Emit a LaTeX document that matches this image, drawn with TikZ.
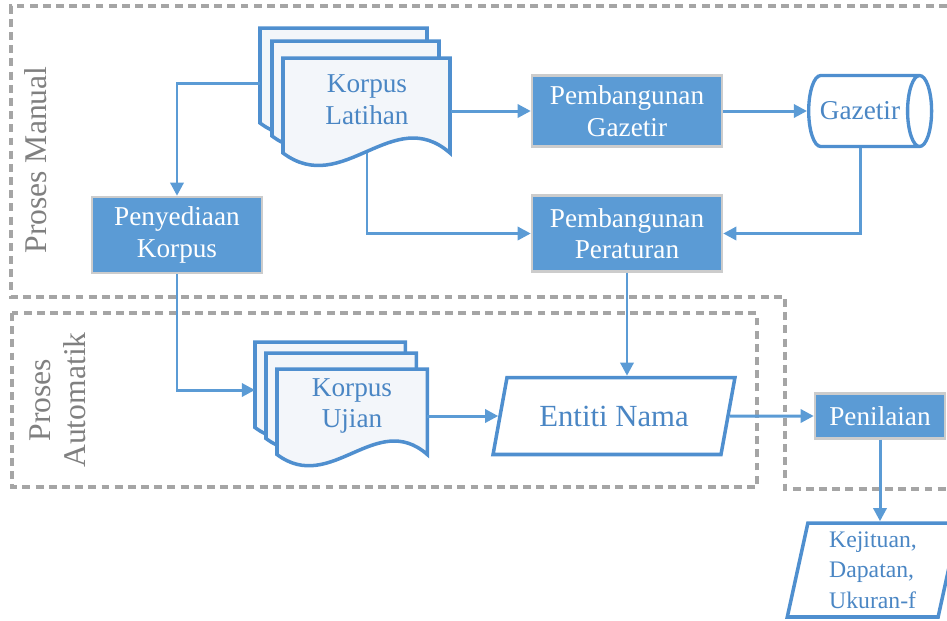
\documentclass[tikz,border=0pt]{standalone}
\usepackage{fontspec}
\setmainfont{Liberation Serif}
\usetikzlibrary{shapes.geometric,arrows.meta}

\definecolor{procfill}{HTML}{5B9BD5}
\definecolor{flowline}{HTML}{5B9BD5}
\definecolor{docline}{HTML}{4F8FCF}
\definecolor{doctext}{HTML}{4A86C4}
\definecolor{docfill}{HTML}{F3F6FA}
\definecolor{framegray}{HTML}{A5A5A5}
\definecolor{labelgray}{HTML}{808080}

\tikzset{
  procbox/.style={rectangle, fill=procfill, draw=black!20, line width=1.4pt, text=white, align=center, font=\fontsize{15.5}{18}\selectfont},
  datashape/.style={trapezium, trapezium stretches=true, draw=docline, line width=2pt, fill=white, text=doctext},
  doclabel/.style={align=center, text=doctext, font=\fontsize{15.5}{18}\selectfont},
  laneframe/.style={draw=framegray, line width=1.9pt, dash pattern=on 4.5pt off 3pt},
  lanelabel/.style={rotate=90, text=labelgray, align=center, font=\fontsize{18}{20}\selectfont},
  flow/.style={draw=flowline, line width=1.7pt, -{Triangle[length=7.5pt,width=7.5pt]}},
  docsheet/.pic={\draw[draw=docline, line width=2pt, fill=docfill] (0,0) -- (167,0) -- (167,95) .. controls (110,45) and (60,140) .. (0,95) -- cycle;}
}

\begin{document}
\begin{tikzpicture}[x=0.02cm, y=-0.02cm]
  \useasboundingbox (0,0) rectangle (947,620);
  \clip (0,0) rectangle (947,620);

  % Lane frames
  \draw[laneframe] (960,6) -- (11,6) -- (11,297) -- (785,297) -- (785,489) -- (960,489);
  \draw[laneframe] (12,313) rectangle (757,487);
  \node[lanelabel] (manual) at (36,160) {Proses Manual};
  \node[lanelabel] (automatik) at (58,400) {Proses\\Automatik};

  % Document stacks
  \pic at (260,28) {docsheet};
  \pic at (272,41) {docsheet};
  \pic at (283,58) {docsheet};
  \node[doclabel, minimum width=3.36cm, minimum height=2.12cm] (latihan) at (367,100) {Korpus\\Latihan};

  \pic[scale=0.9] at (255,342) {docsheet};
  \pic[scale=0.9] at (266,353) {docsheet};
  \pic[scale=0.9] at (277,369) {docsheet};
  \node[doclabel, minimum width=3.0cm, minimum height=1.7cm] (ujian) at (352,406) {Korpus\\Ujian};

  % Process boxes
  \node[procbox, minimum width=3.4cm, minimum height=1.52cm] (penyediaan) at (177,235) {Penyediaan\\Korpus};
  \node[procbox, minimum width=3.8cm, minimum height=1.42cm] (pgazetir) at (627,111) {Pembangunan\\Gazetir};
  \node[procbox, minimum width=3.8cm, minimum height=1.52cm] (pperaturan) at (627,233.5) {Pembangunan\\Peraturan};
  \node[procbox, minimum width=2.6cm, minimum height=0.9cm] (penilaian) at (880,416) {Penilaian};

  % Gazetir store
  \node[cylinder, draw=docline, line width=1.9pt, fill=white, aspect=0.8, minimum height=2.44cm, minimum width=1.42cm, text=doctext, font=\fontsize{15.5}{18}\selectfont] (gazetir) at (860,111) {Gazetir};

  % Data shapes
  \node[datashape, trapezium left angle=72, trapezium right angle=108, minimum width=4.84cm, minimum height=1.54cm, font=\fontsize{17.5}{20}\selectfont] (entiti) at (614,416) {Entiti Nama};
  \node[datashape, trapezium left angle=80, trapezium right angle=100, minimum width=3.44cm, minimum height=1.88cm, align=left, font=\fontsize{13.5}{17.5}\selectfont] (hasil) at (873,570) {Kejituan,\\Dapatan,\\Ukuran-f};

  % Connectors
  \coordinate (latihanback) at (260,83);
  \coordinate (ujianback) at (255,390);
  \draw[flow] (latihanback) -| (penyediaan.north);
  \draw[flow] (latihan.east |- pgazetir.west) -- (pgazetir.west);
  \draw[flow] (latihan.south) |- (pperaturan.west);
  \draw[flow] (pgazetir.east) -- (gazetir.west);
  \draw[flow] (gazetir.south) |- (pperaturan.east);
  \draw[flow] (penyediaan.south) |- (ujianback);
  \draw[flow] (pperaturan.south) -- (pperaturan.south |- entiti.north);
  \draw[flow] (ujian.east |- entiti.west) -- (entiti.west);
  \draw[flow] (entiti.east) -- (penilaian.west);
  \draw[flow] (penilaian.south) -- (penilaian.south |- hasil.north);
\end{tikzpicture}
\end{document}
